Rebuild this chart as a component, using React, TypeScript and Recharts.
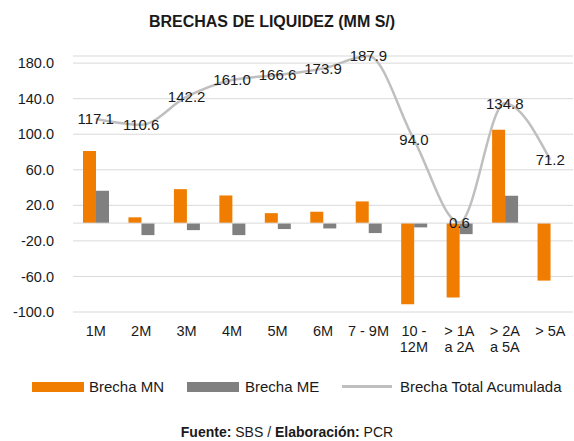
import React from "react";
import {
  ComposedChart,
  Bar,
  Line,
  XAxis,
  YAxis,
  CartesianGrid,
  ReferenceLine,
} from "recharts";

const categories = ["1M", "2M", "3M", "4M", "5M", "6M", "7 - 9M", "10 -\n12M", "> 1A\na 2A", "> 2A\na 5A", "> 5A"];
const brechaMN = [81.0, 6.5, 38.2, 31.1, 11.2, 12.8, 24.4, -91.3, -83.8, 104.9, -64.7];
const brechaME = [36.4, -13.5, -7.9, -13.5, -6.7, -6.0, -11.2, -4.8, -12.4, 30.8, 0];
const brechaTotal = [117.1, 110.6, 142.2, 161.0, 166.6, 173.9, 187.9, 94.0, 0.6, 134.8, 71.2];
const yTicks = [-100, -60, -20, 20, 60, 100, 140, 180];

const data = categories.map((c, i) => ({
  name: c,
  mn: brechaMN[i],
  me: brechaME[i],
  total: brechaTotal[i],
}));

const FONT = '"Liberation Sans", Arial, sans-serif';
const ORANGE = "#F07D00";
const GRAY = "#808080";
const LINE = "#BFBFBF";
const GRID = "#D9D9D9";
const TEXT = "#1a1a1a";

function CategoryTick(props: any) {
  const { x, y, payload } = props;
  const lines = String(payload.value).split("\n");
  return (
    <text x={x} y={y} textAnchor="middle" fontSize={14.5} fill={TEXT}>
      {lines.map((l, i) => (
        <tspan key={i} x={x} dy={i === 0 ? "0.71em" : 16}>
          {l}
        </tspan>
      ))}
    </text>
  );
}

function TotalLabel(props: any) {
  const { x, y, value } = props;
  return (
    <text x={x} y={y} dy="0.36em" textAnchor="middle" fontSize={15} fill={TEXT}>
      {Number(value).toFixed(1)}
    </text>
  );
}

export default function App() {
  return (
    <div
      style={{
        position: "absolute",
        left: 0,
        top: 0,
        width: 574,
        height: 441,
        background: "#fff",
        fontFamily: FONT,
        color: TEXT,
        overflow: "hidden",
      }}
    >
      <div
        style={{
          position: "absolute",
          top: 13,
          left: 0,
          width: 544,
          textAlign: "center",
          fontSize: 16,
          fontWeight: 700,
        }}
      >
        BRECHAS DE LIQUIDEZ (MM S/)
      </div>
      <div style={{ position: "absolute", top: 0, left: 0 }}>
        <ComposedChart
          width={574}
          height={360}
          data={data}
          margin={{ top: 56, right: 1, left: 0, bottom: 0 }}
          barCategoryGap="22%"
          barGap={0}
        >
          <CartesianGrid stroke={GRID} vertical={false} />
          <XAxis
            dataKey="name"
            interval={0}
            axisLine={false}
            tickLine={false}
            tickSize={0}
            tickMargin={14}
            height={48}
            tick={<CategoryTick />}
          />
          <YAxis
            domain={[-100, 188]}
            ticks={yTicks}
            width={73}
            axisLine={false}
            tickLine={false}
            tickSize={0}
            tickMargin={19}
            tickFormatter={(v: number) => v.toFixed(1)}
            tick={{ fontSize: 14.5, fill: TEXT }}
          />
          <ReferenceLine y={0} stroke={GRID} />
          <Bar dataKey="mn" fill={ORANGE} isAnimationActive={false} />
          <Bar dataKey="me" fill={GRAY} isAnimationActive={false} />
          <Line
            dataKey="total"
            type="monotone"
            stroke={LINE}
            strokeWidth={2.5}
            dot={false}
            activeDot={false}
            isAnimationActive={false}
            label={<TotalLabel />}
          />
        </ComposedChart>
      </div>
      <div style={{ position: "absolute", top: 377, left: 0, width: 574, height: 20, fontSize: 15 }}>
        <div style={{ position: "absolute", left: 32, top: 5, width: 52, height: 10, background: ORANGE }} />
        <div style={{ position: "absolute", left: 89, top: 1 }}>Brecha MN</div>
        <div style={{ position: "absolute", left: 187, top: 5, width: 52, height: 10, background: GRAY }} />
        <div style={{ position: "absolute", left: 245, top: 1 }}>Brecha ME</div>
        <div style={{ position: "absolute", left: 342, top: 8, width: 50, height: 2.5, background: LINE }} />
        <div style={{ position: "absolute", left: 400, top: 1 }}>Brecha Total Acumulada</div>
      </div>
      <div
        style={{
          position: "absolute",
          top: 424,
          left: 0,
          width: 574,
          textAlign: "center",
          fontSize: 14,
        }}
      >
        <b>Fuente:</b> SBS / <b>Elaboración:</b> PCR
      </div>
    </div>
  );
}
